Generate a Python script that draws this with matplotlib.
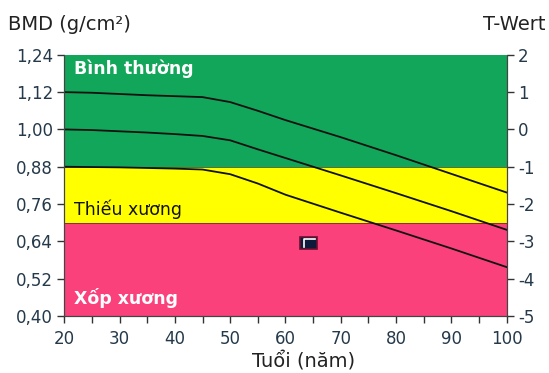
import matplotlib
matplotlib.use("Agg")
import matplotlib.pyplot as plt
from matplotlib.patches import Rectangle

plt.rcParams["axes.unicode_minus"] = False

# age (years)
ages = [20, 25, 30, 35, 40, 45, 50, 55, 60, 70, 80, 90, 100]

# reference curves, BMD in g/cm2
bmd_upper = [1.120, 1.118, 1.114, 1.110, 1.107, 1.104, 1.088, 1.060, 1.030, 0.975, 0.917, 0.857, 0.797]
bmd_mid = [1.000, 0.998, 0.994, 0.990, 0.985, 0.979, 0.965, 0.936, 0.908, 0.852, 0.795, 0.737, 0.677]
bmd_low = [0.880, 0.879, 0.878, 0.876, 0.874, 0.871, 0.856, 0.826, 0.790, 0.732, 0.675, 0.617, 0.557]

# zones: (bottom, top, colour)
zone_limits = [0.40, 0.70, 0.88, 1.24]
zone_colors = ["#fb417b", "#ffff00", "#12a65a"]
zone_labels = ["Xốp xương", "Thiếu xương", "Bình thường"]

patient_age = 64.2
patient_bmd = 0.635

y_ticks = [0.40, 0.52, 0.64, 0.76, 0.88, 1.00, 1.12, 1.24]
t_ticks = [-5, -4, -3, -2, -1, 0, 1, 2]
x_ticks = [20, 30, 40, 50, 60, 70, 80, 90, 100]

txt = "#24394a"

fig = plt.figure(figsize=(5.49, 3.73), dpi=100)
ax = fig.add_axes([0.117, 0.153, 0.806, 0.700])

for i, c in enumerate(zone_colors):
    ax.axhspan(zone_limits[i], zone_limits[i + 1], color=c, lw=0, zorder=0)
ax.axhline(zone_limits[1], color="#7a2a2a", lw=0.6, zorder=1)
ax.axhline(zone_limits[2], color="#3a5a2a", lw=0.6, zorder=1)

for vals in (bmd_upper, bmd_mid, bmd_low):
    ax.plot(ages, vals, color="#111111", lw=1.3, zorder=2)

# patient marker
w, h = 3.0, 0.04
ax.add_patch(Rectangle((patient_age - w / 2, patient_bmd - h / 2), w, h,
                       facecolor="#0d1a3a", edgecolor="#6a1030", lw=1.2, zorder=3))
ax.plot([patient_age - w / 2 + 0.6, patient_age - w / 2 + 0.6, patient_age + w / 2 - 0.4],
        [patient_bmd - h / 2 + 0.006, patient_bmd + h / 2 - 0.008, patient_bmd + h / 2 - 0.008],
        color="white", lw=1.2, zorder=4)

ax.set_xlim(20, 100)
ax.set_ylim(0.40, 1.24)
ax.set_xticks(x_ticks)
ax.set_xticks(range(25, 100, 10), minor=True)
ax.set_yticks(y_ticks)
ax.set_yticklabels([f"{v:.2f}".replace(".", ",") for v in y_ticks])
ax.tick_params(direction="out", length=5, width=1, colors="#333333",
               labelcolor=txt, labelsize=12)
ax.tick_params(which="minor", direction="out", length=5, width=1, colors="#333333")
ax.tick_params(axis="x", pad=5)
ax.tick_params(axis="y", pad=3)

ax.text(21.7, 1.225, zone_labels[2], color="white", fontweight="bold",
        fontsize=12.5, va="top", ha="left")
ax.text(21.7, 0.742, zone_labels[1], color="#111111", fontsize=12.5, va="center", ha="left")
ax.text(21.7, 0.458, zone_labels[0], color="white", fontweight="bold",
        fontsize=12.5, va="center", ha="left")

ax2 = ax.twinx()
ax2.set_ylim(-5, 2)
ax2.set_yticks(t_ticks)
ax2.tick_params(direction="out", length=5, width=1, colors="#333333",
                labelcolor=txt, labelsize=12, pad=3)

for a in (ax, ax2):
    for s in a.spines.values():
        s.set_color("#444444")
        s.set_linewidth(0.8)
    a.spines["top"].set_visible(False)

fig.text(0.015, 0.91, "BMD (g/cm²)", fontsize=14, color="#222222", va="bottom")
fig.text(0.993, 0.91, "T-Wert", fontsize=14, color="#222222", va="bottom", ha="right")
ax.set_xlabel("Tuổi (năm)", fontsize=14, color="#222222")
ax.xaxis.set_label_coords(0.54, -0.135)

fig.savefig("out.png", dpi=100)
